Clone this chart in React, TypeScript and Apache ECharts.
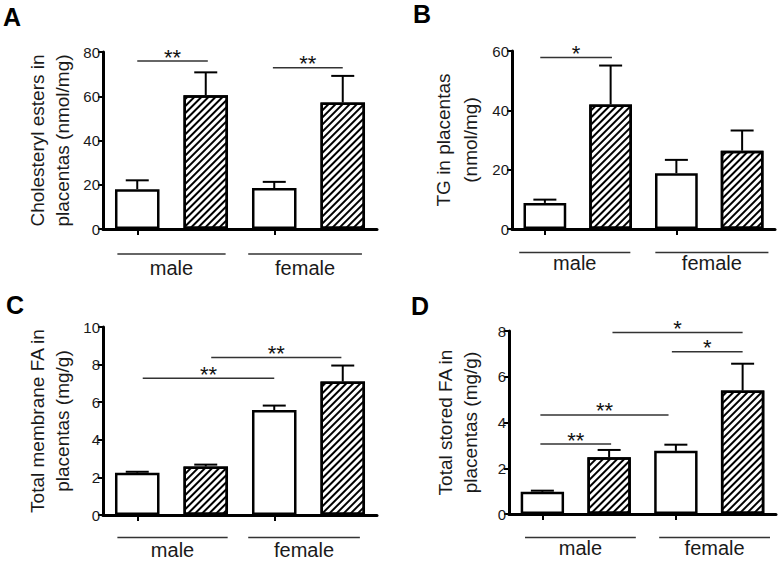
import React, { useEffect, useRef } from 'react';
import * as echarts from 'echarts';

const FONT = "'Liberation Sans', Arial, Helvetica, sans-serif";

// categories (bar order in every panel)
const categories = ['male control', 'male treated', 'female control', 'female treated'];
const groupNames = ['male', 'female'];

// Panel A – cholesteryl esters (nmol/mg)
const cholMean = [18.0, 60.5, 18.5, 57.2];
const cholSem = [4.0, 10.3, 2.8, 12.0];
const cholTicks = [0, 20, 40, 60, 80];
const sigAFrom = [0, 1.98];
const sigATo = [1.03, 3.0];
const sigAY = [75.9, 72.9];
const sigALabel = ['**', '**'];

// Panel B – TG (nmol/mg)
const tgMean = [8.8, 42.0, 18.8, 26.4];
const tgSem = [1.1, 13.1, 4.5, 6.8];
const tgTicks = [0, 20, 40, 60];
const sigBFrom = [-0.07];
const sigBTo = [1.02];
const sigBY = [57.8];
const sigBLabel = ['*'];

// Panel C – total membrane FA (mg/g)
const memMean = [2.25, 2.58, 5.58, 7.1];
const memSem = [0.05, 0.1, 0.24, 0.85];
const memTicks = [0, 2, 4, 6, 8, 10];
const sigCFrom = [0.08, 1.08];
const sigCTo = [2.0, 2.98];
const sigCY = [7.27, 8.38];
const sigCLabel = ['**', '**'];

// Panel D – total stored FA (mg/g)
const stoMean = [0.97, 2.48, 2.76, 5.4];
const stoSem = [0.05, 0.32, 0.27, 1.17];
const stoTicks = [0, 2, 4, 6, 8];
const sigDFrom = [-0.03, -0.03, 1.94, 1.05];
const sigDTo = [1.03, 1.89, 3.0, 3.0];
const sigDY = [3.06, 4.33, 7.09, 7.93];
const sigDLabel = ['**', '**', '*', '*'];

type Panel = {
  letter: string;
  letterPos: [number, number];
  mean: number[];
  sem: number[];
  ticks: number[];
  title: string;
  sigFrom: number[];
  sigTo: number[];
  sigY: number[];
  sigLabel: string[];
  grid: { left: number; top: number; width: number; height: number };
  nameGap: number;
  nameLineHeight: number;
  groupSpans: [number, number][];
  groupLineDy: number;
  groupLabelDy: number;
};

const panels: Panel[] = [
  {
    letter: 'A', letterPos: [3, 16.5], mean: cholMean, sem: cholSem, ticks: cholTicks,
    title: 'Cholesteryl esters in\nplacentas (nmol/mg)',
    sigFrom: sigAFrom, sigTo: sigATo, sigY: sigAY, sigLabel: sigALabel,
    grid: { left: 103, top: 52, width: 274, height: 177 }, nameGap: 28, nameLineHeight: 25,
    groupSpans: [[-0.29, 1.29], [1.62, 3.28]], groupLineDy: 25, groupLabelDy: 39,
  },
  {
    letter: 'B', letterPos: [413, 13.5], mean: tgMean, sem: tgSem, ticks: tgTicks,
    title: 'TG in placentas\n(nmol/mg)',
    sigFrom: sigBFrom, sigTo: sigBTo, sigY: sigBY, sigLabel: sigBLabel,
    grid: { left: 512, top: 51, width: 263, height: 178 }, nameGap: 28.5, nameLineHeight: 27,
    groupSpans: [[-0.39, 1.3], [1.68, 3.4]], groupLineDy: 23.6, groupLabelDy: 34,
  },
  {
    letter: 'C', letterPos: [6, 305], mean: memMean, sem: memSem, ticks: memTicks,
    title: 'Total membrane FA in\nplacentas (mg/g)',
    sigFrom: sigCFrom, sigTo: sigCTo, sigY: sigCY, sigLabel: sigCLabel,
    grid: { left: 103, top: 327, width: 274, height: 188 }, nameGap: 28, nameLineHeight: 25,
    groupSpans: [[-0.29, 1.32], [1.62, 3.25]], groupLineDy: 22.4, groupLabelDy: 35,
  },
  {
    letter: 'D', letterPos: [411, 305.5], mean: stoMean, sem: stoSem, ticks: stoTicks,
    title: 'Total stored FA in\nplacentas (mg/g)',
    sigFrom: sigDFrom, sigTo: sigDTo, sigY: sigDY, sigLabel: sigDLabel,
    grid: { left: 509, top: 331, width: 267, height: 183 }, nameGap: 26.5, nameLineHeight: 25,
    groupSpans: [[-0.26, 1.4], [1.75, 3.41]], groupLineDy: 23.4, groupLabelDy: 33.5,
  },
];

const plainStyle = { color: '#ffffff', borderColor: '#000000', borderWidth: 2.5 };
const hatchStyle = {
  color: '#ffffff',
  borderColor: '#000000',
  borderWidth: 2.5,
  decal: {
    symbol: 'rect',
    symbolSize: 1,
    dashArrayX: [1, 0],
    dashArrayY: [2, 3],
    rotation: -Math.PI / 4,
    color: '#000000',
    backgroundColor: '#ffffff',
  },
};

function buildOption() {
  const grid: any[] = [];
  const xAxis: any[] = [];
  const yAxis: any[] = [];
  const series: any[] = [];
  const graphic: any[] = [];

  panels.forEach((p, i) => {
    grid.push({ ...p.grid, containLabel: false });
    xAxis.push({
      type: 'category',
      gridIndex: i,
      data: categories,
      axisLine: { show: true, lineStyle: { color: '#000', width: 3 } },
      axisTick: { show: true, alignWithLabel: true, length: 6, lineStyle: { color: '#000', width: 2 } },
      axisLabel: { show: false },
      splitLine: { show: false },
    });
    const yMax = p.ticks[p.ticks.length - 1];
    const yInt = p.ticks[1] - p.ticks[0];
    yAxis.push({
      type: 'value',
      gridIndex: i,
      min: p.ticks[0],
      max: yMax,
      interval: yInt,
      axisLine: { show: true, onZero: false, lineStyle: { color: '#000', width: 3 } },
      axisTick: { show: true, length: 5, lineStyle: { color: '#000', width: 2 } },
      axisLabel: { fontSize: 15, color: '#1a1a1a', margin: 3, fontFamily: FONT },
      splitLine: { show: false },
      name: p.title,
      nameLocation: 'middle',
      nameRotate: 90,
      nameGap: p.nameGap,
      nameTextStyle: { fontSize: 19, lineHeight: p.nameLineHeight, color: '#1a1a1a', fontFamily: FONT },
    });
    series.push({
      type: 'bar',
      xAxisIndex: i,
      yAxisIndex: i,
      barWidth: '65%',
      data: p.mean.map((v, j) => ({ value: v, itemStyle: j % 2 ? hatchStyle : plainStyle })),
      z: 2,
    });
    // error bars (upper SEM)
    series.push({
      type: 'custom',
      xAxisIndex: i,
      yAxisIndex: i,
      z: 1,
      data: p.mean.map((v, j) => [j, v, v + p.sem[j]]),
      encode: { x: 0, y: [1, 2] },
      renderItem: (params: any, api: any) => {
        const x = api.value(0);
        const lo = api.coord([x, api.value(1)]);
        const hi = api.coord([x, api.value(2)]);
        return {
          type: 'group',
          children: [
            { type: 'line', shape: { x1: lo[0], y1: lo[1], x2: hi[0], y2: hi[1] }, style: { stroke: '#000', lineWidth: 2 } },
            { type: 'line', shape: { x1: hi[0] - 11.5, y1: hi[1], x2: hi[0] + 11.5, y2: hi[1] }, style: { stroke: '#000', lineWidth: 2 } },
          ],
        };
      },
    });
    // significance brackets
    series.push({
      type: 'custom',
      xAxisIndex: i,
      yAxisIndex: i,
      clip: false,
      z: 3,
      data: p.sigY.map((y, k) => [k, y]),
      encode: { x: 0, y: 1 },
      renderItem: (params: any, api: any) => {
        const k = params.dataIndex;
        const y = p.sigY[k];
        const a = api.coord([0, y]);
        const b = api.coord([1, y]);
        const step = b[0] - a[0];
        const x1 = a[0] + p.sigFrom[k] * step;
        const x2 = a[0] + p.sigTo[k] * step;
        return {
          type: 'group',
          children: [
            { type: 'line', shape: { x1, y1: a[1], x2, y2: a[1] }, style: { stroke: '#333', lineWidth: 1.5 } },
            {
              type: 'text',
              x: (x1 + x2) / 2,
              y: a[1] - 4,
              style: {
                text: p.sigLabel[k], fill: '#111', fontSize: 22, fontFamily: FONT,
                align: 'center', verticalAlign: 'middle', textAlign: 'center', textVerticalAlign: 'middle',
              },
            },
          ],
        };
      },
    });
    // sex groups below the axis
    series.push({
      type: 'custom',
      xAxisIndex: i,
      yAxisIndex: i,
      clip: false,
      z: 3,
      data: groupNames.map((n, k) => [k, 0]),
      encode: { x: 0, y: 1 },
      renderItem: (params: any, api: any) => {
        const k = params.dataIndex;
        const a = api.coord([0, 0]);
        const b = api.coord([1, 0]);
        const step = b[0] - a[0];
        const span = p.groupSpans[k];
        const x1 = a[0] + span[0] * step;
        const x2 = a[0] + span[1] * step;
        return {
          type: 'group',
          children: [
            { type: 'line', shape: { x1, y1: a[1] + p.groupLineDy, x2, y2: a[1] + p.groupLineDy }, style: { stroke: '#333', lineWidth: 1.5 } },
            {
              type: 'text',
              x: (x1 + x2) / 2,
              y: a[1] + p.groupLabelDy,
              style: {
                text: groupNames[k], fill: '#1a1a1a', fontSize: 20, fontFamily: FONT,
                align: 'center', verticalAlign: 'middle', textAlign: 'center', textVerticalAlign: 'middle',
              },
            },
          ],
        };
      },
    });
    graphic.push({
      type: 'text',
      x: p.letterPos[0],
      y: p.letterPos[1],
      style: {
        text: p.letter, fill: '#000', fontSize: 25, fontWeight: 'bold', fontFamily: FONT,
        align: 'left', verticalAlign: 'middle', textAlign: 'left', textVerticalAlign: 'middle',
      },
    });
  });

  return {
    animation: false,
    backgroundColor: '#ffffff',
    grid,
    xAxis,
    yAxis,
    series,
    graphic,
  };
}

export default function App() {
  const ref = useRef<HTMLDivElement>(null);
  useEffect(() => {
    if (!ref.current) return;
    const chart = echarts.init(ref.current, undefined, { renderer: 'svg' });
    chart.setOption(buildOption() as any);
    return () => chart.dispose();
  }, []);
  return (
    <div
      ref={ref}
      style={{ position: 'absolute', left: 0, top: 0, width: 780, height: 562, background: '#fff' }}
    />
  );
}
